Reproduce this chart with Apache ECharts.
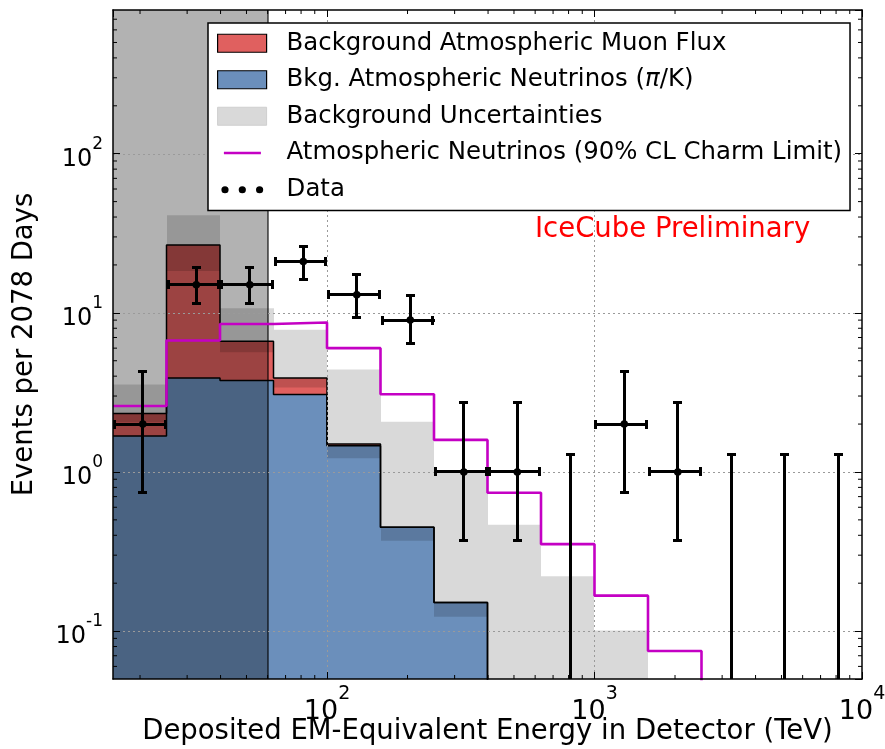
<!DOCTYPE html>
<html>
<head>
<meta charset="utf-8">
<script src="https://cdn.jsdelivr.net/npm/echarts@6/dist/echarts.min.js"></script>
<style>
  html, body { margin: 0; padding: 0; background: #fff; }
  #chart { width: 885px; height: 749px; }
</style>
</head>
<body>
<div id="chart"></div>
<script>
// Energy bins (TeV), log-spaced, five per decade
const binEdges = [15.849, 25.119, 39.811, 63.096, 100, 158.49, 251.19, 398.11, 630.96, 1000, 1584.9, 2511.9, 3981.1, 6309.6, 10000];
// Data points sit at the linear bin midpoints
const dataX = [20.48, 32.47, 51.45, 81.55, 129.2, 204.8, 324.7, 514.5, 815.5, 1292, 2048, 3246, 5145, 8155];

// Expected backgrounds per bin (events per 2078 days)
const nuPiK     = [1.68, 3.9, 3.75, 3.07, 1.46, 0.45, 0.151, 0, 0, 0, 0, 0, 0, 0];
const muonFlux  = [0.65, 22.8, 2.89, 0.82, 0.04, 0, 0, 0, 0, 0, 0, 0, 0, 0];
const bkgLow    = [2.05, 18.3, 5.66, 3.39, 1.22, 0.37, 0.123, 0, 0, 0, null, null, null, null];
const bkgHigh   = [3.54, 41, 10.7, 7.83, 4.4, 2.07, 1.0, 0.466, 0.221, 0.101, null, null, null, null];
const charmLimit = [2.6, 6.7, 8.5, 8.7, 6.0, 3.08, 1.59, 0.74, 0.352, 0.167, 0.075, 0, 0, 0];

// Observed events and their intervals
const counts  = [2, 15, 15, 21, 13, 9, 1, 1, 0, 2, 1, 0, 0, 0];
const errLow  = [0.74, 11.4, 11.4, 16.3, 9.3, 6.4, 0.37, 0.37, 0, 0.74, 0.37, 0, 0, 0];
const errHigh = [4.25, 19.2, 19.2, 26.3, 17.3, 12.8, 2.72, 2.72, 1.29, 4.25, 2.72, 1.29, 1.29, 1.29];

// Decade gridlines
const xGrid = [100, 1000];
const yGrid = [0.1, 1, 10, 100];

const vetoThreshold = 60; // TeV, region below is shaded
const X_MIN = binEdges[0], X_MAX = 10000, Y_MIN = 0.05, Y_MAX = 800;
const FLOOR = 1e-3; // stands in for zero on the log scale (falls below the plot)

const FONT = 'DejaVu Sans';
const RED = '#e0605f', BLUE = '#6b8fbb', MAGENTA = '#c400c4';

const names = {
  muon: 'Background Atmospheric Muon Flux',
  nu: 'Bkg. Atmospheric Neutrinos (π/K)',
  unc: 'Background Uncertainties',
  charm: 'Atmospheric Neutrinos (90% CL Charm Limit)',
  data: 'Data'
};

const pos = v => (v > 0 ? v : FLOOR);

function stepPoints(vals) {
  const pts = [];
  for (let i = 0; i < vals.length; i++) {
    pts.push([binEdges[i], pos(vals[i])]);
    pts.push([binEdges[i + 1], pos(vals[i])]);
  }
  return pts;
}

function rectLayer(name, rows, fill, z) {
  return {
    type: 'custom', name: name, z: z, silent: true, clip: true,
    data: rows,
    encode: { x: [0, 1], y: [2, 3] },
    renderItem: function (params, api) {
      const p0 = api.coord([api.value(0), api.value(2)]);
      const p1 = api.coord([api.value(1), api.value(3)]);
      const cs = params.coordSys;
      const x0 = Math.round(p0[0]), x1 = Math.round(p1[0]);
      const top = Math.max(Math.min(p0[1], p1[1]), cs.y);
      const bottom = Math.min(Math.max(p0[1], p1[1]), cs.y + cs.height);
      return { type: 'rect', shape: { x: x0, y: top, width: x1 - x0, height: bottom - top }, style: { fill: fill } };
    }
  };
}

const total = nuPiK.map((v, i) => v + muonFlux[i]);
const nuRows = [], muRows = [], bandRows = [];
for (let i = 0; i < nuPiK.length; i++) {
  if (nuPiK[i] > 0) nuRows.push([binEdges[i], binEdges[i + 1], FLOOR, nuPiK[i]]);
  if (muonFlux[i] > 0) muRows.push([binEdges[i], binEdges[i + 1], nuPiK[i], total[i]]);
  if (bkgHigh[i] != null) bandRows.push([binEdges[i], binEdges[i + 1], pos(bkgLow[i]), bkgHigh[i]]);
}

function supLabel(v) {
  const e = Math.log10(v);
  const r = Math.round(e);
  if (Math.abs(e - r) > 1e-6) return '';
  return '{b|10}{s|' + r + '}';
}
const xLabelRich = {
  b: { fontSize: 27, fontFamily: FONT, color: '#000', lineHeight: 40, verticalAlign: 'bottom' },
  s: { fontSize: 19, fontFamily: FONT, color: '#000', lineHeight: 14, verticalAlign: 'top' }
};
const yLabelRich = {
  b: { fontSize: 24, fontFamily: FONT, color: '#000', lineHeight: 36, verticalAlign: 'bottom' },
  s: { fontSize: 17, fontFamily: FONT, color: '#000', lineHeight: 12, verticalAlign: 'top' }
};

const frameLine = { show: true, onZero: false, lineStyle: { color: '#000', width: 1.5 } };
const majorTick = { show: true, inside: true, length: 7, lineStyle: { color: '#000', width: 1 } };

// error-bar pieces as pixel-snapped filled bars, 3 px thick
function hBar(x1, x2, y) {
  const t = Math.round(y - 1.5);
  return { type: 'rect', shape: { x: Math.round(Math.min(x1, x2)), y: t, width: Math.round(Math.abs(x2 - x1)), height: 3 }, style: { fill: '#000' } };
}
function vBar(x, y1, y2) {
  const l = Math.round(x - 1.5);
  return { type: 'rect', shape: { x: l, y: Math.round(Math.min(y1, y2)), width: 3, height: Math.round(Math.abs(y2 - y1)) }, style: { fill: '#000' } };
}

const chart = echarts.init(document.getElementById('chart'), null, { renderer: 'canvas' });

chart.setOption({
  animation: false,
  backgroundColor: '#fff',
  grid: { left: 113, right: 23, top: 10, bottom: 70, containLabel: false, outerBoundsMode: 'none' },
  xAxis: [
    {
      type: 'log', logBase: 10, min: X_MIN, max: X_MAX, position: 'bottom', z: 10,
      axisLine: frameLine, axisTick: majorTick, splitLine: { show: false },
      axisLabel: { formatter: supLabel, rich: xLabelRich, margin: 6, showMinLabel: false },
      name: 'Deposited EM-Equivalent Energy in Detector (TeV)',
      nameLocation: 'middle', nameGap: 39, nameMoveOverlap: false,
      nameTextStyle: { fontSize: 27.5, fontFamily: FONT, color: '#000' }
    },
    {
      type: 'log', logBase: 10, min: X_MIN, max: X_MAX, position: 'top', z: 10,
      axisLine: frameLine, axisTick: majorTick, splitLine: { show: false }, axisLabel: { show: false }
    }
  ],
  yAxis: [
    {
      type: 'log', logBase: 10, min: Y_MIN, max: Y_MAX, position: 'left', z: 10,
      axisLine: frameLine, axisTick: majorTick, splitLine: { show: false },
      axisLabel: { formatter: supLabel, rich: yLabelRich, margin: 10, showMinLabel: false, showMaxLabel: false },
      name: 'Events per 2078 Days',
      nameLocation: 'middle', nameGap: 74, nameRotate: 90,
      nameTextStyle: { fontSize: 27.5, fontFamily: FONT, color: '#000' }
    },
    {
      type: 'log', logBase: 10, min: Y_MIN, max: Y_MAX, position: 'right', z: 10,
      axisLine: frameLine, axisTick: majorTick, splitLine: { show: false }, axisLabel: { show: false }
    }
  ],
  legend: {
    orient: 'vertical', left: 208, top: 23, z: 20,
    padding: [8, 8, 9, 9], itemGap: 12, itemWidth: 49, itemHeight: 18,
    backgroundColor: '#fff', borderColor: '#000', borderWidth: 1.5, borderRadius: 0,
    selectedMode: false,
    formatter: function (name) {
      return name === names.nu ? 'Bkg. Atmospheric Neutrinos ({i|π}/K)' : name;
    },
    textStyle: {
      fontSize: 24.4, fontFamily: FONT, color: '#000', lineHeight: 24.5, padding: [0, 0, 0, 15],
      rich: { i: { fontSize: 24.4, fontFamily: FONT, fontStyle: 'italic', color: '#000', lineHeight: 24.5 } }
    },
    data: [
      { name: names.muon, icon: 'rect', itemStyle: { color: RED, borderColor: '#000', borderWidth: 1.2 } },
      { name: names.nu, icon: 'rect', itemStyle: { color: BLUE, borderColor: '#000', borderWidth: 1.2 } },
      { name: names.unc, icon: 'rect', itemStyle: { color: '#d9d9d9', borderColor: '#cfcfcf', borderWidth: 1 } },
      {
        name: names.charm,
        icon: 'path://M0,0L0,0M49,18L49,18M6.3,8L43.3,8L43.3,10.6L6.3,10.6Z',
        itemStyle: { color: MAGENTA, borderWidth: 0 }
      },
      {
        name: names.data,
        icon: 'path://M0,0L0,0M49,18L49,18' +
          'M3.8,9.5a3.6,3.6 0 1,0 7.2,0a3.6,3.6 0 1,0 -7.2,0' +
          'M21.1,9.5a3.6,3.6 0 1,0 7.2,0a3.6,3.6 0 1,0 -7.2,0' +
          'M38.4,9.5a3.6,3.6 0 1,0 7.2,0a3.6,3.6 0 1,0 -7.2,0',
        itemStyle: { color: '#000', borderWidth: 0 }
      }
    ]
  },
  graphic: [
    {
      type: 'text', left: 535, top: 216, z: 30,
      style: { text: 'IceCube Preliminary', fill: '#ff0000', font: '27.5px "DejaVu Sans"' }
    }
  ],
  series: [
    rectLayer(names.nu, nuRows, BLUE, 1),
    rectLayer(names.muon, muRows, RED, 2),
    {
      type: 'line', z: 3, silent: true, clip: true, symbol: 'none',
      data: stepPoints(nuPiK),
      lineStyle: { color: '#000', width: 1.5 }
    },
    {
      type: 'line', z: 3, silent: true, clip: true, symbol: 'none',
      data: stepPoints(total),
      lineStyle: { color: '#000', width: 1.5 }
    },
    rectLayer(names.unc, bandRows, 'rgba(0,0,0,0.15)', 4),
    {
      // shaded region below the veto threshold, with its edge line
      type: 'custom', z: 5, silent: true, clip: true,
      data: [[X_MIN, vetoThreshold, Y_MIN, Y_MAX]],
      encode: { x: [0, 1], y: [2, 3] },
      renderItem: function (params, api) {
        const p0 = api.coord([api.value(0), api.value(2)]);
        const p1 = api.coord([api.value(1), api.value(3)]);
        const xr = Math.round(p1[0]);
        return {
          type: 'group', children: [
            { type: 'rect', shape: { x: p0[0], y: p1[1], width: xr - p0[0], height: p0[1] - p1[1] }, style: { fill: 'rgba(0,0,0,0.3)' } },
            { type: 'rect', shape: { x: xr - 1, y: p1[1], width: 2, height: p0[1] - p1[1] }, style: { fill: 'rgba(0,0,0,0.55)' } }
          ]
        };
      }
    },
    {
      // dotted decade gridlines, above the fills and below the curves
      type: 'custom', z: 5.5, silent: true,
      data: [[X_MIN, Y_MIN]],
      encode: { x: 0, y: 1 },
      renderItem: function (params, api) {
        const cs = params.coordSys;
        const st = () => ({ stroke: '#9a9a9a', lineWidth: 1, lineDash: [2, 3] });
        const children = [];
        xGrid.forEach(v => {
          const x = Math.round(api.coord([v, Y_MIN])[0]) + 0.5;
          children.push({ type: 'line', shape: { x1: x, y1: cs.y, x2: x, y2: cs.y + cs.height }, style: st() });
        });
        yGrid.forEach(v => {
          const y = Math.round(api.coord([X_MIN, v])[1]) + 0.5;
          children.push({ type: 'line', shape: { x1: cs.x, y1: y, x2: cs.x + cs.width, y2: y }, style: st() });
        });
        return { type: 'group', children: children };
      }
    },
    {
      name: names.charm, type: 'line', z: 6, silent: true, clip: true, symbol: 'none',
      data: stepPoints(charmLimit),
      itemStyle: { color: MAGENTA },
      lineStyle: { color: MAGENTA, width: 2.6 }
    },
    {
      name: names.data, type: 'custom', z: 7, silent: true, clip: true,
      itemStyle: { color: '#000' },
      data: dataX.map((x, i) => [x, errHigh[i]]),
      encode: { x: 0, y: 1 },
      renderItem: function (params, api) {
        const i = params.dataIndex;
        const cs = params.coordSys;
        const bottomY = cs.y + cs.height;
        const c = api.coord([dataX[i], pos(counts[i])]);
        const hiY = api.coord([dataX[i], errHigh[i]])[1];
        const loY = errLow[i] > 0 ? api.coord([dataX[i], errLow[i]])[1] : bottomY;
        const cap = 4.5;
        const children = [
          vBar(c[0], loY, hiY),
          hBar(c[0] - cap, c[0] + cap, hiY)
        ];
        if (errLow[i] > 0) children.push(hBar(c[0] - cap, c[0] + cap, loY));
        if (counts[i] > 0) {
          const l = api.coord([binEdges[i], counts[i]])[0];
          const r = api.coord([binEdges[i + 1], counts[i]])[0];
          children.push(hBar(l, r, c[1]));
          children.push(vBar(l + 1.5, c[1] - cap, c[1] + cap));
          children.push(vBar(r - 1.5, c[1] - cap, c[1] + cap));
          children.push({ type: 'circle', shape: { cx: c[0], cy: c[1], r: 3.8 }, style: { fill: '#000' } });
        }
        return { type: 'group', children: children };
      }
    },
    {
      // minor log ticks on all four sides
      type: 'custom', z: 9, silent: true,
      data: [[X_MIN, Y_MIN]],
      encode: { x: 0, y: 1 },
      renderItem: function (params, api) {
        const cs = params.coordSys;
        const L = 4;
        const tick = (x1, y1, x2, y2) => ({ type: 'line', shape: { x1: x1, y1: y1, x2: x2, y2: y2 }, style: { stroke: '#000', lineWidth: 1 } });
        const children = [];
        for (let d = 10; d < X_MAX; d *= 10) {
          for (let m = 2; m <= 9; m++) {
            const v = m * d;
            if (v <= X_MIN || v >= X_MAX) continue;
            const x = api.coord([v, Y_MIN])[0];
            children.push(tick(x, cs.y + cs.height, x, cs.y + cs.height - L));
            children.push(tick(x, cs.y, x, cs.y + L));
          }
        }
        for (let d = 0.01; d < Y_MAX; d *= 10) {
          for (let m = 2; m <= 9; m++) {
            const v = m * d;
            if (v <= Y_MIN || v >= Y_MAX) continue;
            const y = api.coord([X_MIN, v])[1];
            children.push(tick(cs.x, y, cs.x + L, y));
            children.push(tick(cs.x + cs.width, y, cs.x + cs.width - L, y));
          }
        }
        return { type: 'group', children: children };
      }
    }
  ]
});
</script>
</body>
</html>
